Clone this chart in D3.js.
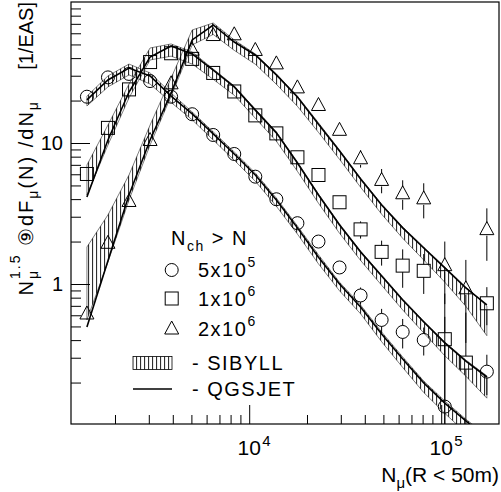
<!DOCTYPE html>
<html><head><meta charset="utf-8">
<script src="https://cdn.jsdelivr.net/npm/d3@7/dist/d3.min.js"></script>
<style>
body{margin:0;background:#fff}
svg{display:block;font-family:"Liberation Sans",Arial,Helvetica,sans-serif}
text{white-space:pre}
</style></head><body>
<svg id="c" width="501" height="492"></svg>
<script>
// ---------- data ----------
const nMu = [1428, 1838, 2366, 3046, 3920, 5046, 6494, 8360, 10760, 13850, 17830, 22950, 29540, 38020, 48940, 63000, 81100, 104400, 134400, 172900];

// measured points (N_ch > 5e5, 1e6, 2e6)
const circ    = [21.3, 29.2, 30.9, 27.5, 21.3, 16.0, 11.4, 8.36, 5.77, 3.99, 2.70, 2.00, 1.31, 0.829, 0.556, 0.457, 0.401, 0.135, null, 0.239];
const circErr = [0.5, 0.6, 0.6, 0.6, 0.5, 0.4, 0.3, 0.2, 0.15, 0.1, 0.08, 0.07, 0.08, 0.115, 0.11, 0.108, 0.09, 0.45, null, 0.076];
const squ     = [6.03, 12.8, 24.0, 37.5, 43.3, 39.5, 31.4, 23.2, 15.7, 11.7, 7.92, 5.93, 3.80, 2.44, 1.69, 1.35, 1.24, 0.406, 0.277, 0.730];
const squErr  = [0.3, 0.5, 0.8, 1, 1, 1, 0.8, 0.6, 0.4, 0.3, 0.25, 0.25, 0.25, 0.34, 0.34, 0.41, 0.39, 0.45, 0.35, 0.22];
const tri     = [0.618, 1.96, 3.88, 10.5, 26.5, 45.9, 58.3, 59.0, 45.7, 36.7, 24.8, 18.6, 12.4, 7.79, 5.47, 4.40, 4.05, 1.36, 0.932, 2.45];
const triErr  = [0.03, 0.08, 0.15, 0.4, 1, 1.5, 2, 2, 1.8, 1.5, 1.2, 1.0, 0.8, 1.1, 1.07, 1.04, 1.13, 0.64, 0.55, 0.99];

// QGSJET predictions
const qgsC = [20.2, 28.0, 34.0, 29.9, 21.5, 16.1, 11.6, 8.36, 5.93, 3.94, 2.50, 1.55, 1.00, 0.687, 0.442, 0.294, 0.199, 0.143, 0.107, 0.081];
const qgsS = [4.14, 10.5, 23.0, 40.7, 48.8, 42.8, 32.9, 25.0, 17.1, 11.8, 7.22, 4.28, 2.62, 1.69, 1.14, 0.770, 0.538, 0.382, 0.284, 0.219];
const qgsT = [0.496, 1.46, 4.28, 10.5, 22.6, 53.8, 68.7, 52.0, 42.1, 30.4, 21.2, 13.6, 8.78, 5.56, 3.63, 2.50, 1.80, 1.30, 0.937, 0.710];

// SIBYLL bands (upper / lower)
const sibCHi = [21.5, 29.9, 36.3, 31.4, 22.6, 16.6, 12.0, 8.64, 6.13, 4.07, 2.58, 1.61, 1.03, 0.710, 0.457, 0.304, 0.205, 0.148, 0.110, 0.084];
const sibCLo = [18.3, 25.0, 30.4, 26.2, 19.4, 14.6, 10.5, 7.55, 5.36, 3.56, 2.26, 1.39, 0.895, 0.615, 0.390, 0.256, 0.170, 0.121, 0.088, 0.064];
const sibSHi = [6.98, 13.4, 26.2, 47.2, 50.4, 44.2, 33.5, 25.4, 17.4, 12.0, 7.33, 4.35, 2.67, 1.71, 1.16, 0.783, 0.547, 0.388, 0.289, 0.223];
const sibSLo = [4.28, 9.68, 20.9, 38.8, 41.3, 36.3, 28.3, 21.8, 15.0, 10.3, 6.30, 3.74, 2.29, 1.47, 0.98, 0.655, 0.450, 0.310, 0.222, 0.155];
const sibTHi = [1.83, 3.09, 5.93, 13.4, 28.9, 63.3, 71.0, 53.8, 42.8, 30.9, 21.5, 13.9, 8.92, 5.65, 3.69, 2.54, 1.83, 1.32, 0.952, 0.698];
const sibTLo = [0.556, 1.43, 3.94, 9.68, 21.5, 49.6, 58.9, 45.4, 36.2, 26.1, 18.2, 11.9, 7.66, 4.86, 3.13, 2.11, 1.48, 1.03, 0.695, 0.430];

// axes ticks
const yMajor = [1, 10];
const yMinor = [0.2,0.3,0.4,0.5,0.6,0.7,0.8,0.9, 2,3,4,5,6,7,8,9, 20,30,40,50,60,70,80,90];
const xMajor = [1e4, 1e5];
const xMajorExp = ["4", "5"];
const xMinor = [2000,3000,4000,5000,6000,7000,8000,9000, 20000,30000,40000,50000,60000,70000,80000,90000];

const legendThresh = [["5x10","5"],["1x10","6"],["2x10","6"]];

// ---------- drawing ----------
const svg = d3.select("#c");
const FONT = '"Liberation Sans",Arial,Helvetica,sans-serif';
const L = 71, R = 499, T = 2, B = 424;
const x = d3.scaleLog().domain([1180, 2.0e5]).range([L, R]);
const y = d3.scaleLog().domain([0.1, 100]).range([425, T]);

const defs = svg.append("defs");
defs.append("clipPath").attr("id","clip").append("rect")
  .attr("x",L).attr("y",T).attr("width",R-L).attr("height",B-T);
const pat = defs.append("pattern").attr("id","vh").attr("patternUnits","userSpaceOnUse")
  .attr("width",4).attr("height",20);
pat.append("line").attr("x1",0.6).attr("x2",0.6).attr("y1",0).attr("y2",20)
  .attr("stroke","#000").attr("stroke-width",0.9);

const plot = svg.append("g").attr("clip-path","url(#clip)");

// SIBYLL bands
const bands = [[sibCHi,sibCLo],[sibSHi,sibSLo],[sibTHi,sibTLo]];
bands.forEach(([hi,lo]) => {
  const area = d3.area().x((d,i)=>x(nMu[i])).y0((d,i)=>y(lo[i])).y1((d,i)=>y(hi[i]));
  plot.append("path").datum(hi).attr("d",area)
    .attr("fill","url(#vh)").attr("stroke","#000").attr("stroke-width",0.5);
});

// QGSJET lines
[qgsC,qgsS,qgsT].forEach(arr => {
  const line = d3.line().x((d,i)=>x(nMu[i])).y(d=>y(d));
  plot.append("path").datum(arr).attr("d",line)
    .attr("fill","none").attr("stroke","#000").attr("stroke-width",1.6);
});

// error bars + markers
const HS = 6.5;
function drawSeries(vals, errs, shape){
  vals.forEach((v,i) => {
    if (v == null) return;
    const cx = x(nMu[i]), cy = y(v);
    const e = errs[i] || 0;
    const yt = y(v + e);
    const yb = (v - e) > 0 ? y(v - e) : B + 10;
    if (yt < cy - HS) plot.append("line").attr("x1",cx).attr("x2",cx).attr("y1",yt).attr("y2",cy-HS)
      .attr("stroke","#000").attr("stroke-width",1);
    if (yb > cy + HS) plot.append("line").attr("x1",cx).attr("x2",cx).attr("y1",cy+HS).attr("y2",yb)
      .attr("stroke","#000").attr("stroke-width",1);
    drawMarker(plot, shape, cx, cy);
  });
}
function drawMarker(g, shape, cx, cy){
  if (shape === "circle") g.append("circle").attr("cx",cx).attr("cy",cy).attr("r",6.5)
      .attr("fill","none").attr("stroke","#000").attr("stroke-width",1);
  else if (shape === "square") g.append("rect").attr("x",cx-6.5).attr("y",cy-6.5).attr("width",13).attr("height",13)
      .attr("fill","none").attr("stroke","#000").attr("stroke-width",1);
  else g.append("path").attr("d",`M${cx},${cy-7.5}L${cx-7},${cy+5.5}L${cx+7},${cy+5.5}Z`)
      .attr("fill","none").attr("stroke","#000").attr("stroke-width",1);
}
drawSeries(circ, circErr, "circle");
drawSeries(squ, squErr, "square");
drawSeries(tri, triErr, "triangle");

// frame
svg.append("rect").attr("x",L).attr("y",T).attr("width",R-L).attr("height",B-T)
  .attr("fill","none").attr("stroke","#000").attr("stroke-width",1.2);

// y axis
const gy = svg.append("g").attr("transform",`translate(${L},0)`)
  .call(d3.axisLeft(y).tickValues(yMajor).tickSize(-19).tickPadding(8).tickFormat(d3.format("~g")));
gy.select(".domain").remove();
gy.attr("font-size",20).attr("font-family",FONT);
gy.selectAll("line").attr("stroke","#000");
gy.selectAll("text").attr("fill","#000");
const gym = svg.append("g").attr("transform",`translate(${L},0)`)
  .call(d3.axisLeft(y).tickValues(yMinor).tickSize(-10).tickFormat(""));
gym.select(".domain").remove();
gym.selectAll("line").attr("stroke","#000");

// x axis
const gx = svg.append("g").attr("transform",`translate(0,${B})`)
  .call(d3.axisBottom(x).tickValues(xMajor).tickSize(-19).tickFormat(""));
gx.select(".domain").remove();
gx.selectAll("line").attr("stroke","#000");
const gxm = svg.append("g").attr("transform",`translate(0,${B})`)
  .call(d3.axisBottom(x).tickValues(xMinor).tickSize(-9).tickFormat(""));
gxm.select(".domain").remove();
gxm.selectAll("line").attr("stroke","#000");
xMajor.forEach((v,i) => {
  svg.append("text").attr("x",x(v)).attr("y",455).attr("text-anchor","middle")
    .attr("font-size",21).attr("font-family",FONT).text("10");
  svg.append("text").attr("x",x(v)+13).attr("y",446).attr("font-size",15)
    .attr("font-family",FONT).text(xMajorExp[i]);
});

// x title
const xt = svg.append("text").attr("x",499).attr("y",482).attr("text-anchor","end")
  .attr("font-size",21).attr("font-family",FONT);
xt.append("tspan").text("N");
xt.append("tspan").attr("font-size",15).attr("dy",6).text("μ");
xt.append("tspan").attr("dy",-6).text("(R < 50m)");

// y title
const yt = svg.append("text").attr("transform","translate(33,2) rotate(-90)")
  .attr("text-anchor","end").attr("font-size",20).attr("font-family",FONT);
const LS = 2;
yt.append("tspan").attr("letter-spacing",LS).text("N");
yt.append("tspan").attr("letter-spacing",LS).attr("font-size",14).attr("dy",5).text("μ");
yt.append("tspan").attr("letter-spacing",LS).attr("font-size",14).attr("dx",-10).attr("dy",-18).text("1.5");
yt.append("tspan").attr("letter-spacing",LS).attr("dy",13).text(" ⑨dF");
yt.append("tspan").attr("letter-spacing",LS).attr("font-size",14).attr("dy",5).text("μ");
yt.append("tspan").attr("letter-spacing",LS).attr("dy",-5).text("(N) /dN");
yt.append("tspan").attr("letter-spacing",LS).attr("font-size",14).attr("dy",5).text("μ");
yt.append("tspan").attr("letter-spacing",LS).attr("dy",-5).text("    ");
yt.append("tspan").text("[1/EAS]");

// legend
const lg = svg.append("g").attr("font-family",FONT).attr("font-size",20);
const lt = lg.append("text").attr("x",171).attr("y",245).attr("letter-spacing",1.5);
lt.append("tspan").text("N");
lt.append("tspan").attr("font-size",14).attr("dy",6).text("ch");
lt.append("tspan").attr("dy",-6).text(" > N");
const rowsY = [270, 298.5, 328.5];
["circle","square","triangle"].forEach((s,i) => {
  drawMarker(lg, s, 171.7, rowsY[i]);
  const t = lg.append("text").attr("x",198).attr("y",rowsY[i]+7).attr("letter-spacing",1.5);
  t.append("tspan").text(legendThresh[i][0]);
  t.append("tspan").attr("font-size",14).attr("dy",-10).text(legendThresh[i][1]);
});
lg.append("rect").attr("x",133).attr("y",356.5).attr("width",39).attr("height",13)
  .attr("fill","url(#vh)").attr("stroke","#000").attr("stroke-width",0.8);
lg.append("text").attr("x",192).attr("y",369.5).attr("letter-spacing",1.5).text("- SIBYLL");
lg.append("line").attr("x1",133).attr("x2",172).attr("y1",389).attr("y2",389)
  .attr("stroke","#000").attr("stroke-width",1.6);
lg.append("text").attr("x",192).attr("y",396).attr("letter-spacing",1.5).text("- QGSJET");
</script>
</body></html>
